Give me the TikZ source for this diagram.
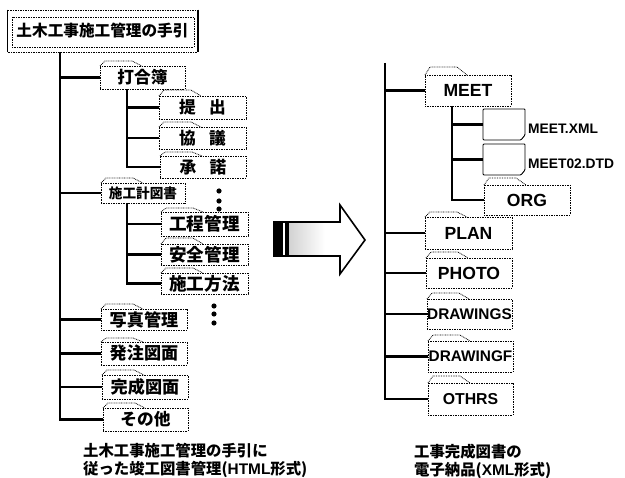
\documentclass[tikz,border=0pt]{standalone}
\usepackage{fontspec}
\setmainfont{Noto Sans CJK JP}
\newfontfamily\latin{Liberation Sans}
\def\s{0.04}
\def\punkt#1#2{({(#1)*\s},{(477-(#2))*\s})}
\tikzset{
	trunk/.style={line width=3.2pt},
	branch/.style={line width=2.6pt},
	folderline/.style={line width=0.9pt,densely dotted},
	jalabel/.style={font=\fontsize{#1}{#1}\selectfont\bfseries,inner sep=0pt},
	jalabel/.default=19,
	enlabel/.style={font=\fontsize{#1}{#1}\selectfont\latin\bfseries,inner sep=0pt},
	enlabel/.default=20,
	caption/.style={font=\fontsize{17.5}{17.5}\selectfont\bfseries,inner sep=0pt,anchor=west},
}
% name, left, top, right, bottom, tab top, label style, text
\newcommand\folder[8]{
	\node[#7,minimum width={((#4)-(#2))*\s cm},minimum height={((#5)-(#3))*\s cm},draw,folderline] (#1) at \punkt{((#2)+(#4))/2}{((#3)+(#5))/2} {#8};
	\draw[folderline] \punkt{#2}{#3} -- \punkt{(#2)+5}{#6} -- \punkt{(#2)+32}{#6} -- \punkt{(#2)+42}{#3};
}
% name, left, top, right, bottom
\newcommand\filebox[5]{
	\path \punkt{#2}{((#3)+(#5))/2} coordinate (#1);
	\draw[line width=1pt,rounded corners=1pt] \punkt{#2}{#3} -- \punkt{#4}{#3} -- \punkt{#4}{(#5)-5} -- \punkt{(#4)-4}{#5} -- \punkt{#2}{#5} -- cycle;
}
\begin{document}
\begin{tikzpicture}
\useasboundingbox \punkt{0}{0} rectangle \punkt{625}{477};
% left tree
\node[jalabel=17.8,minimum width={190*\s cm},minimum height={42*\s cm},draw,folderline] (title) at \punkt{102.5}{31} {土木工事施工管理の手引};
\draw[folderline] \punkt{12}{17} rectangle \punkt{194}{47};
\draw[line width=0.9pt] (title.north west) -- (title.south west);
\draw[line width=2.6pt] (title.north east) -- (title.south east);

\folder{uchiawase}{100}{66}{185}{89}{61}{jalabel}{打合簿}
\folder{teishutsu}{159}{96}{246}{119}{90}{jalabel}{提\hspace{0.8em}出}
\folder{kyogi}{159}{127}{246}{149}{122}{jalabel}{協\hspace{0.8em}議}
\folder{shodaku}{160}{156}{246}{178}{152}{jalabel}{承\hspace{0.8em}諾}
\folder{keikaku}{101}{183}{185}{203}{178}{jalabel=15.5}{施工計図書}
\folder{kotei}{161}{212}{248}{236}{208}{jalabel=20}{工程管理}
\folder{anzen}{161}{244}{248}{265}{238}{jalabel=20}{安全管理}
\folder{hoho}{161}{273}{248}{294}{268}{jalabel=20}{施工方法}
\folder{shashin}{101}{309}{187}{330}{304}{jalabel=19.5}{写真管理}
\folder{hatchu}{101}{342}{187}{365}{338}{jalabel=19.5}{発注図面}
\folder{kansei}{102}{375}{188}{399}{370}{jalabel=19.5}{完成図面}
\folder{sonota}{103}{408}{188}{431}{403}{jalabel}{その他}

\path \punkt{60}{52} coordinate (lefttrunk);
\path \punkt{127}{89} coordinate (subtrunka);
\path \punkt{127}{203} coordinate (subtrunkb);
\draw[trunk] (lefttrunk) -- (sonota.west -| lefttrunk) -- (sonota.west);
\draw[trunk] (subtrunka) -- (shodaku.west -| subtrunka) -- (shodaku.west);
\draw[trunk] (subtrunkb) -- (hoho.west -| subtrunkb) -- (hoho.west);
\foreach \n in {uchiawase,keikaku,shashin,hatchu,kansei}{
	\draw[branch] (lefttrunk |- \n.west) -- (\n.west);
}
\foreach \n in {teishutsu,kyogi}{
	\draw[branch] (subtrunka |- \n.west) -- (\n.west);
}
\foreach \n in {kotei,anzen}{
	\draw[branch] (subtrunkb |- \n.west) -- (\n.west);
}
\foreach \y in {191,201,209}{
	\fill \punkt{219}{\y} circle (2.6*\s);
}
\foreach \y in {306,314,323}{
	\fill \punkt{214}{\y} circle (2.6*\s);
}

% arrow
\shade[left color=gray!35,right color=white] \punkt{289}{222} rectangle \punkt{325}{256};
\fill \punkt{273}{222} rectangle \punkt{283}{256};
\fill \punkt{284.5}{222} rectangle \punkt{289}{256};
\draw[line width=1.8pt,line join=miter] \punkt{273}{222} -- \punkt{340}{222} -- \punkt{340}{205} -- \punkt{365}{240} -- \punkt{340}{274} -- \punkt{340}{256} -- \punkt{273}{256};

% right tree
\folder{meet}{425}{75}{511}{106}{67}{enlabel}{MEET}
\filebox{meetxml}{483}{109}{525}{140}
\filebox{meetdtd}{483}{144}{525}{175}
\node[enlabel=15.7,anchor=west] (xmllabel) at \punkt{528}{129} {MEET.XML};
\node[enlabel=15.7,anchor=west] (dtdlabel) at \punkt{528}{164} {MEET02.DTD};
\folder{org}{484}{185}{570}{215}{178}{enlabel}{ORG}
\folder{plan}{425}{217}{512}{249}{212}{enlabel}{PLAN}
\folder{photo}{426}{258}{512}{288}{252}{enlabel}{PHOTO}
\folder{drawings}{427}{299}{512}{329}{293}{enlabel=17.5}{DRAWINGS}
\folder{drawingf}{428}{341}{513}{372}{335}{enlabel=17.5}{DRAWINGF}
\folder{othrs}{428}{383}{513}{415}{376}{enlabel=18}{OTHRS}

\path \punkt{385}{63} coordinate (righttrunk);
\path \punkt{452}{106} coordinate (subtrunkc);
\draw[trunk] (righttrunk) -- (othrs.west -| righttrunk) -- (othrs.west);
\draw[trunk] (subtrunkc) -- (org.west -| subtrunkc) -- (org.west);
\foreach \n in {meet,plan,photo,drawings,drawingf}{
	\draw[branch] (righttrunk |- \n.west) -- (\n.west);
}
\foreach \n in {meetxml,meetdtd}{
	\draw[branch] (subtrunkc |- \n) -- (\n);
}

% captions
\node[caption] (capa) at \punkt{83}{451} {土木工事施工管理の手引に};
\node[caption] (capb) at \punkt{83}{469} {従った竣工図書管理({\latin\bfseries HTML}形式)};
\node[caption] (capc) at \punkt{414}{452} {工事完成図書の};
\node[caption] (capd) at \punkt{414}{470} {電子納品({\latin\bfseries XML}形式)};
\end{tikzpicture}
\end{document}
